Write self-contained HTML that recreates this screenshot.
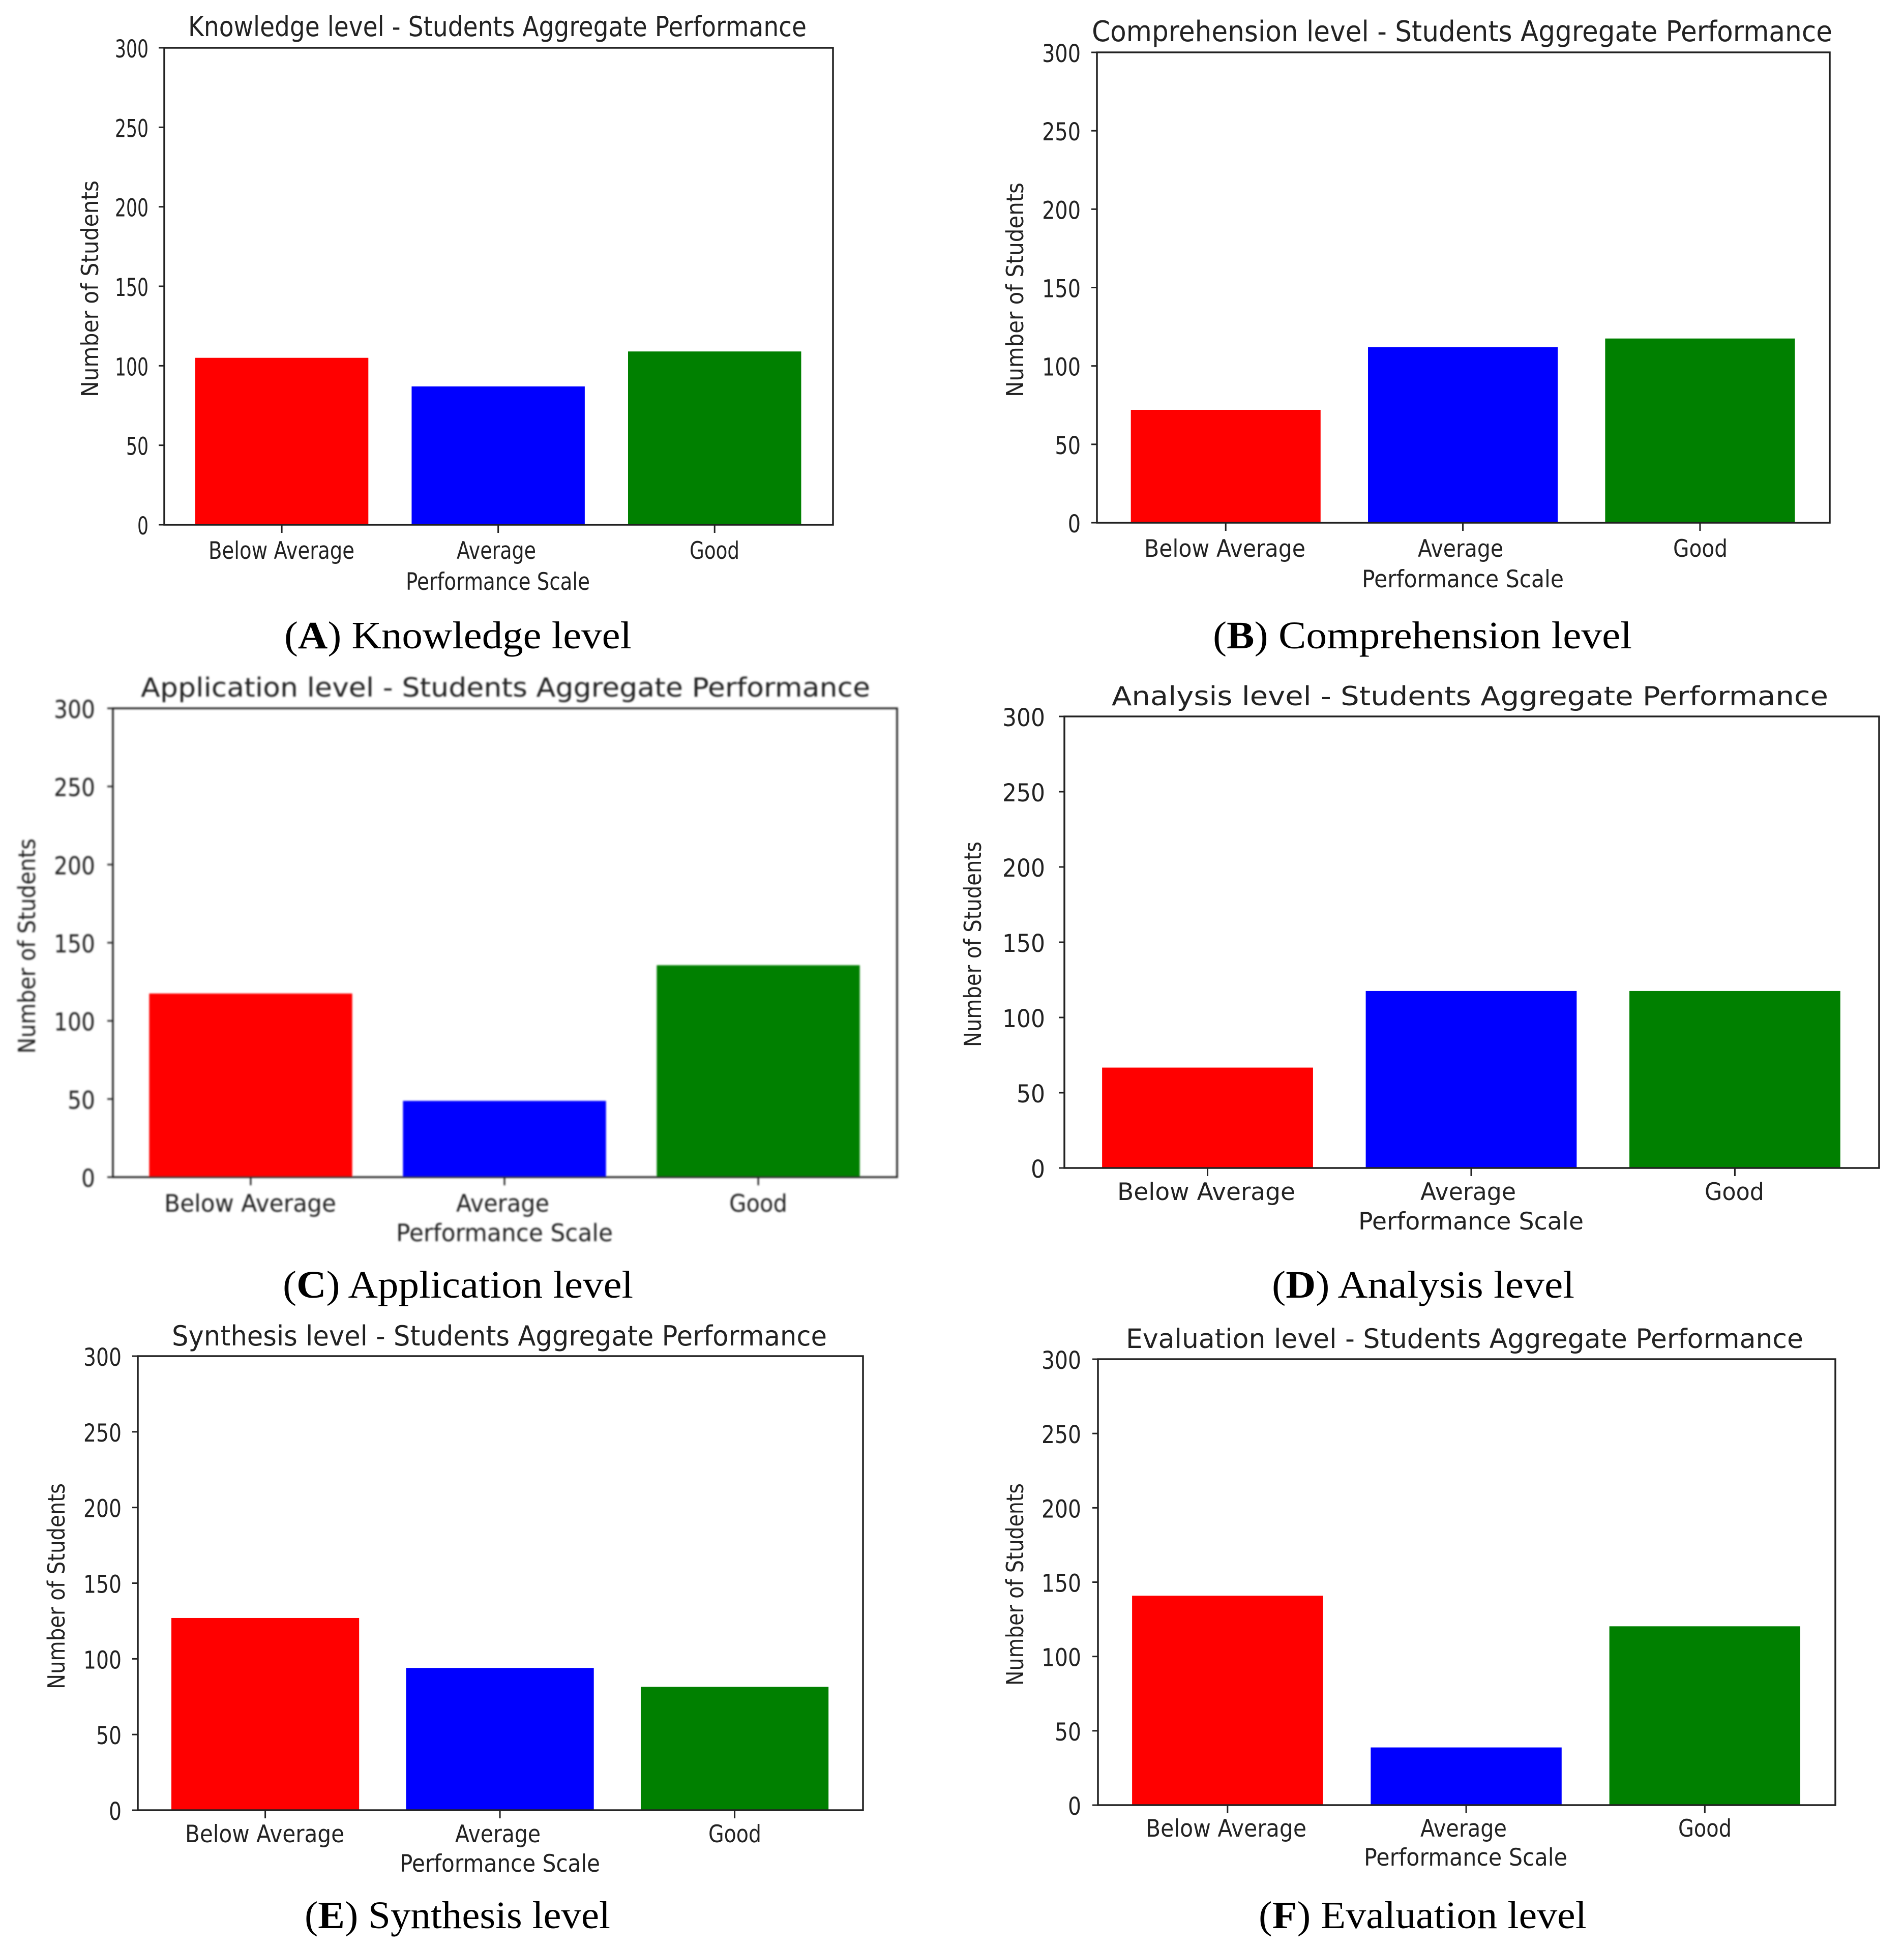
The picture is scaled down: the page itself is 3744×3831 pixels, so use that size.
<!DOCTYPE html>
<html lang="en">
<head>
<meta charset="utf-8">
<title>Students Aggregate Performance by Level</title>
<style>
html,body{margin:0;padding:0;background:#fff;width:3744px;height:3831px;overflow:hidden}
svg{display:block}
.t{font-family:"DejaVu Sans","Liberation Sans",sans-serif;fill:#222}
.c{font-family:"Liberation Serif",serif;fill:#000}
</style>
</head>
<body>
<svg id="figure" xmlns="http://www.w3.org/2000/svg" width="3744" height="3831" viewBox="0 0 3744 3831">
<defs><filter id="soft" x="-5%" y="-5%" width="110%" height="110%"><feGaussianBlur stdDeviation="1.6"/></filter></defs>
<rect width="3744" height="3831" fill="#fff"/>
</svg>
<script>
const categories = ['Below Average', 'Average', 'Good'];
const yTickValues = [0, 50, 100, 150, 200, 250, 300];
const yTickLabels = ['0', '50', '100', '150', '200', '250', '300'];
const barColors = ['#ff0000', '#0000ff', '#008000'];
const knowledgeValues = [105, 87, 109];
const comprehensionValues = [72, 112, 117.5];
const applicationValues = [117.5, 48.8, 135.6];
const analysisValues = [66.7, 117.6, 117.6];
const synthesisValues = [127, 94, 81.5];
const evaluationValues = [140.9, 38.8, 120.3];
const yMax = 300;
const xMin = -0.543;
const xMax = 2.547;

const layouts = [
  {key:'knowledge', letter:'A', level:'Knowledge level', values:knowledgeValues, box:[323,1638,94,1032],
   title:[370,1216,71,54], tickRight:292, tickW:22, cats:[[410,287],[898,156],[1356,98]], catY:1099,
   xl:[798,362,1160], yl:[193,355,426], cap:[559,683,1275]},
  {key:'comprehension', letter:'B', level:'Comprehension level', values:comprehensionValues, box:[2157,3598,103,1028],
   title:[2147,1456,81,56], tickRight:2125, tickW:25.3, cats:[[2250,317],[2788,168],[3290,107]], catY:1095,
   xl:[2678,397,1155], yl:[2012,359,422], cap:[2385,824,1275]},
  {key:'application', letter:'C', level:'Application level', values:applicationValues, box:[222,1764,1393,2315],
   title:[277,1434,1370,52], tickRight:187, tickW:27, cats:[[323,338],[897,183],[1434,114]], catY:2383,
   xl:[779,426,2441], yl:[69,1649,423], cap:[556,689,2552], soft:true},
  {key:'analysis', letter:'D', level:'Analysis level', values:analysisValues, box:[2093,3695,1409,2297],
   title:[2186,1409,1387,52], tickRight:2055, tickW:28, cats:[[2197,350],[2793,188],[3352,117]], catY:2360,
   xl:[2671,443,2418], yl:[1929,1655,404], cap:[2501,595,2552]},
  {key:'synthesis', letter:'E', level:'Synthesis level', values:synthesisValues, box:[271,1697,2667,3560],
   title:[338,1288,2646,54], tickRight:239, tickW:25, cats:[[364,313],[895,168],[1393,104]], catY:3623,
   xl:[786,394,3681], yl:[127,2917,405], cap:[599,601,3792]},
  {key:'evaluation', letter:'F', level:'Evaluation level', values:evaluationValues, box:[2159,3609,2673,3550],
   title:[2214,1332,2651,53], tickRight:2126, tickW:26, cats:[[2253,316],[2793,170],[3300,105]], catY:3612,
   xl:[2682,400,3669], yl:[2012,2917,398], cap:[2475,645,3792]}
];

const NS = 'http://www.w3.org/2000/svg';
const figure = document.getElementById('figure');

function make(tag, attrs, parent) {
  const node = document.createElementNS(NS, tag);
  for (const k in attrs) node.setAttribute(k, attrs[k]);
  parent.appendChild(node);
  return node;
}

function label(parent, text, x, y, width, size, extra) {
  const node = make('text', Object.assign({
    x: x, y: y, 'font-size': size, textLength: width,
    lengthAdjust: 'spacingAndGlyphs', class: 't'
  }, extra || {}), parent);
  node.textContent = text;
  return node;
}

layouts.forEach(function (p) {
  const left = p.box[0], right = p.box[1], top = p.box[2], bottom = p.box[3];
  const xPos = function (i) { return left + (i - xMin) / (xMax - xMin) * (right - left); };
  const yPos = function (v) { return bottom - v / yMax * (bottom - top); };
  const barW = 0.8 * (right - left) / (xMax - xMin);

  const g = make('g', p.soft ? {filter: 'url(#soft)'} : {}, figure);
  
  

  p.values.forEach(function (v, i) {
    const bar = make('rect', {
      x: xPos(i) - barW / 2, y: yPos(v), width: barW, height: yPos(0) - yPos(v), fill: barColors[i]
    }, g);
    
    
  });

  const frame = make('rect', {
    x: left, y: top, width: right - left, height: bottom - top,
    fill: 'none', stroke: '#222', 'stroke-width': 3.5
  }, g);
  
  

  yTickValues.forEach(function (v, i) {
    const tick = make('line', {
      x1: left - 11, x2: left, y1: yPos(v), y2: yPos(v), stroke: '#222', 'stroke-width': 3
    }, g);
    
    
    const s = yTickLabels[i];
    const w = s.length * p.tickW;
    const t = label(g, s, p.tickRight - w, yPos(v) + 19, w, 48);
    
    
  });

  categories.forEach(function (c, i) {
    const slug = c.toLowerCase().replace(' ', '-');
    const tick = make('line', {
      x1: xPos(i), x2: xPos(i), y1: bottom, y2: bottom + 16, stroke: '#222', 'stroke-width': 3
    }, g);
    
    
    const t = label(g, c, p.cats[i][0], p.catY, p.cats[i][1], 47);
    
    
  });

  const title = label(g, p.level + ' - Students Aggregate Performance', p.title[0], p.title[2], p.title[1], p.title[3]);
  
  

  const xl = label(g, 'Performance Scale', p.xl[0], p.xl[2], p.xl[1], 47);
  
  

  const yStart = p.yl[1] + p.yl[2];
  const yl = label(g, 'Number of Students', 0, 0, p.yl[2], 46,
    {transform: 'translate(' + p.yl[0] + ',' + yStart + ') rotate(-90)'});
  
  

  const cap = make('text', {
    x: p.cap[0], y: p.cap[2], 'font-size': 76, textLength: p.cap[1],
    lengthAdjust: 'spacingAndGlyphs', class: 'c'
  }, figure);
  
  
  cap.appendChild(document.createTextNode('('));
  const bold = make('tspan', {'font-weight': 'bold'}, cap);
  bold.textContent = p.letter;
  cap.appendChild(document.createTextNode(') ' + p.level));
});
</script>
</body>
</html>
